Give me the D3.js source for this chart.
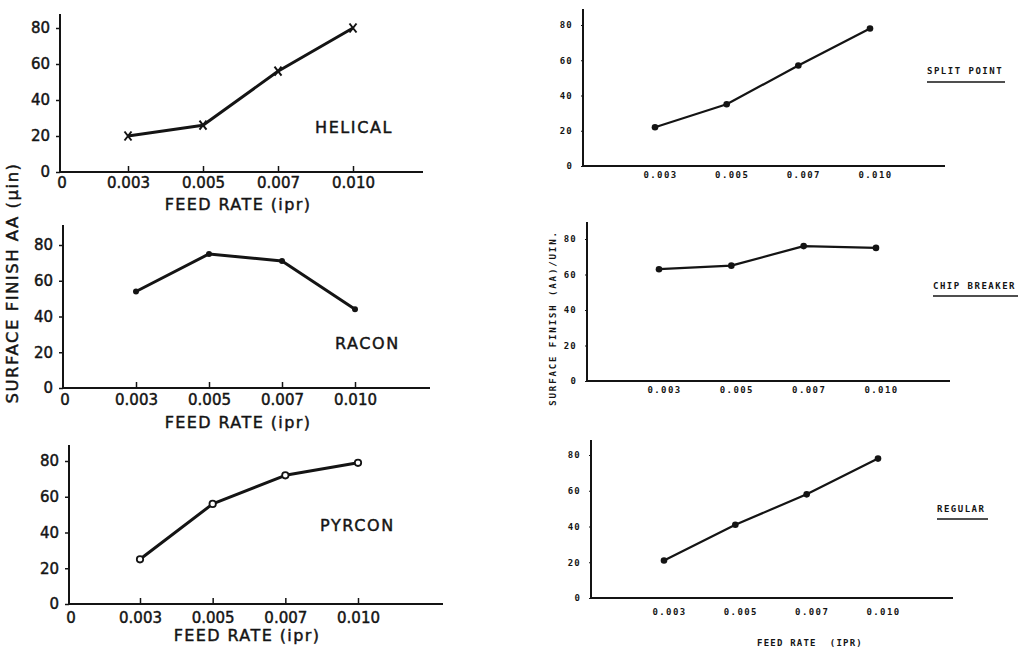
<!DOCTYPE html>
<html>
<head>
<meta charset="utf-8">
<script src="https://cdn.jsdelivr.net/npm/d3@7"></script>
<style>
  html, body { margin: 0; padding: 0; background: #fff; }
  svg { display: block; }
</style>
</head>
<body>
<svg id="chart" width="1018" height="650"></svg>
<script>
// ---------- DATA ----------
const categories = ["0.003", "0.005", "0.007", "0.010"];
const yTickValues = [0, 20, 40, 60, 80];
const helical = [20, 26, 56, 80];
const racon = [54, 75, 71, 44];
const pyrcon = [25, 56, 72, 79];
const splitPoint = [22, 35, 57, 78];
const chipBreaker = [63, 65, 76, 75];
const regular = [21, 41, 58, 78];
const leftNames = ["HELICAL", "RACON", "PYRCON"];
const rightNames = ["SPLIT POINT", "CHIP BREAKER", "REGULAR"];

// ---------- LAYOUT ----------
const svg = d3.select("#chart");
const ink = "#141414";

const leftPanels = [
  { values: helical, name: leftNames[0], marker: "x", ax: 60, zeroY: 172, y80: 28, topY: 14, x0: 128, x3: 353, xEnd: 423,
    nameX: 315, nameY: 127, tickLabY: 183, feedX: 238, feedY: 204 },
  { values: racon, name: leftNames[1], marker: "dot", ax: 63, zeroY: 388, y80: 245, topY: 225, x0: 136, x3: 355, xEnd: 430,
    nameX: 335, nameY: 343, tickLabY: 400, feedX: 238, feedY: 422 },
  { values: pyrcon, name: leftNames[2], marker: "ring", ax: 69, zeroY: 604, y80: 461, topY: 445, x0: 140, x3: 358, xEnd: 443,
    nameX: 320, nameY: 525, tickLabY: 618, feedX: 247, feedY: 635 }
];

const rightPanels = [
  { values: splitPoint, name: rightNames[0], ax: 583, zeroY: 166, y80: 25, topY: 9, x0: 655, x3: 870, xEnd: 945,
    nameX: 927, nameY: 71, lineY: 82, lineEnd: 1005, tickLabY: 175 },
  { values: chipBreaker, name: rightNames[1], ax: 587, zeroY: 381, y80: 239, topY: 222, x0: 659, x3: 876, xEnd: 950,
    nameX: 933, nameY: 286, lineY: 296, lineEnd: 1018, tickLabY: 390 },
  { values: regular, name: rightNames[2], ax: 591, zeroY: 598, y80: 455, topY: 440, x0: 664, x3: 878, xEnd: 953,
    nameX: 937, nameY: 509, lineY: 519, lineEnd: 988, tickLabY: 612 }
];

const leftFont = "'DejaVu Sans', sans-serif";
const monoFont = "'DejaVu Sans Mono', monospace";
const boldish = sel => sel.attr("stroke", ink).attr("stroke-width", 0.45);

// ---------- LEFT PANELS ----------
leftPanels.forEach(p => {
  const g = svg.append("g");
  const x = d3.scalePoint().domain(categories).range([p.x0, p.x3]);
  const y = d3.scaleLinear().domain([0, 80]).range([p.zeroY, p.y80]);

  g.append("line").attr("x1", p.ax).attr("x2", p.ax).attr("y1", p.topY).attr("y2", p.zeroY + 1)
    .attr("stroke", ink).attr("stroke-width", 2);
  g.append("line").attr("x1", p.ax).attr("x2", p.xEnd).attr("y1", p.zeroY).attr("y2", p.zeroY)
    .attr("stroke", ink).attr("stroke-width", 2);

  const yAxis = g.append("g").attr("transform", `translate(${p.ax},0)`)
    .call(d3.axisLeft(y).tickValues(yTickValues).tickSizeInner(4).tickSizeOuter(0).tickPadding(6));
  yAxis.select(".domain").remove();
  yAxis.selectAll("line").attr("stroke", ink).attr("stroke-width", 1.5);
  yAxis.selectAll("text").attr("font-family", leftFont).attr("font-size", 15).attr("fill", ink).call(boldish);

  const xAxis = g.append("g").attr("transform", `translate(0,${p.zeroY})`)
    .call(d3.axisBottom(x).tickSizeInner(-6).tickSizeOuter(0).tickPadding(0));
  xAxis.select(".domain").remove();
  xAxis.selectAll("line").attr("stroke", ink).attr("stroke-width", 1.5);
  xAxis.selectAll("text").attr("font-family", leftFont).attr("font-size", 15).attr("fill", ink)
    .attr("y", p.tickLabY - p.zeroY).attr("dy", "0.35em").call(boldish);
  g.append("text").attr("x", p.ax + 2).attr("y", p.tickLabY).attr("dy", "0.35em")
    .attr("text-anchor", "middle").attr("font-family", leftFont).attr("font-size", 15).attr("fill", ink)
    .call(boldish).text("0");

  const line = d3.line().x((d, i) => x(categories[i])).y(d => y(d));
  g.append("path").datum(p.values).attr("d", line).attr("fill", "none")
    .attr("stroke", ink).attr("stroke-width", 3).attr("stroke-linejoin", "round");

  const pts = g.selectAll(".pt").data(p.values).enter();
  if (p.marker === "x") {
    pts.append("path")
      .attr("transform", (d, i) => `translate(${x(categories[i])},${y(d)})`)
      .attr("d", "M-3.5,-4.5L3.5,4.5M3.5,-4.5L-3.5,4.5")
      .attr("stroke", ink).attr("stroke-width", 2).attr("fill", "none");
  } else if (p.marker === "dot") {
    pts.append("circle").attr("cx", (d, i) => x(categories[i])).attr("cy", d => y(d))
      .attr("r", 3).attr("fill", ink);
  } else {
    pts.append("circle").attr("cx", (d, i) => x(categories[i])).attr("cy", d => y(d))
      .attr("r", 3.2).attr("fill", "#fff").attr("stroke", ink).attr("stroke-width", 1.8);
  }

  g.append("text").attr("x", p.nameX).attr("y", p.nameY).attr("dy", "0.35em")
    .attr("font-family", leftFont).attr("font-size", 16).attr("letter-spacing", 1.6)
    .attr("fill", ink).call(boldish).text(p.name);

  g.append("text").attr("x", p.feedX).attr("y", p.feedY).attr("dy", "0.35em").attr("text-anchor", "middle")
    .attr("font-family", leftFont).attr("font-size", 16).attr("letter-spacing", 1.4)
    .attr("fill", ink).call(boldish).text("FEED RATE (ipr)");
});

svg.append("text").attr("transform", "translate(12,283) rotate(-90)").attr("dy", "0.35em")
  .attr("text-anchor", "middle").attr("font-family", leftFont).attr("font-size", 16.5).attr("letter-spacing", 1.5)
  .attr("fill", ink).call(boldish).text("SURFACE FINISH AA (\u03BCin)");

// ---------- RIGHT PANELS ----------
rightPanels.forEach(p => {
  const g = svg.append("g");
  const x = d3.scalePoint().domain(categories).range([p.x0, p.x3]);
  const y = d3.scaleLinear().domain([0, 80]).range([p.zeroY, p.y80]);

  g.append("line").attr("x1", p.ax).attr("x2", p.ax).attr("y1", p.topY).attr("y2", p.zeroY + 1)
    .attr("stroke", ink).attr("stroke-width", 2);
  g.append("line").attr("x1", p.ax).attr("x2", p.xEnd).attr("y1", p.zeroY).attr("y2", p.zeroY)
    .attr("stroke", ink).attr("stroke-width", 2);

  const yAxis = g.append("g").attr("transform", `translate(${p.ax},0)`)
    .call(d3.axisLeft(y).tickValues(yTickValues).tickSizeInner(2).tickSizeOuter(0).tickPadding(8));
  yAxis.select(".domain").remove();
  yAxis.selectAll("line").attr("stroke", ink).attr("stroke-width", 1.2);
  yAxis.selectAll("text").attr("font-family", monoFont).attr("font-weight", "bold").attr("font-size", 9)
    .attr("letter-spacing", 1.2).attr("fill", ink);

  const xAxis = g.append("g").attr("transform", `translate(0,${p.zeroY})`)
    .call(d3.axisBottom(x).tickSize(0).tickPadding(0));
  xAxis.select(".domain").remove();
  xAxis.selectAll("text").attr("font-family", monoFont).attr("font-weight", "bold").attr("font-size", 9)
    .attr("letter-spacing", 1.4).attr("fill", ink)
    .attr("x", 5).attr("y", p.tickLabY - p.zeroY).attr("dy", "0.35em");

  const line = d3.line().x((d, i) => x(categories[i])).y(d => y(d));
  g.append("path").datum(p.values).attr("d", line).attr("fill", "none")
    .attr("stroke", ink).attr("stroke-width", 2.2).attr("stroke-linejoin", "round");

  g.selectAll(".pt").data(p.values).enter().append("circle")
    .attr("cx", (d, i) => x(categories[i])).attr("cy", d => y(d)).attr("r", 3.3).attr("fill", ink);

  g.append("text").attr("x", p.nameX).attr("y", p.nameY).attr("dy", "0.35em")
    .attr("font-family", monoFont).attr("font-weight", "bold").attr("font-size", 9).attr("letter-spacing", 1.5)
    .attr("fill", ink).text(p.name);
  g.append("line").attr("x1", p.nameX).attr("x2", p.lineEnd).attr("y1", p.lineY).attr("y2", p.lineY)
    .attr("stroke", ink).attr("stroke-width", 1.3);
});

svg.append("text").attr("transform", "translate(553,318) rotate(-90)").attr("dy", "0.35em")
  .attr("text-anchor", "middle").attr("font-family", monoFont).attr("font-weight", "bold")
  .attr("font-size", 9).attr("letter-spacing", 1.9).attr("fill", ink).text("SURFACE FINISH (AA)/UIN.");
svg.append("text").attr("x", 810).attr("y", 643).attr("dy", "0.35em").attr("text-anchor", "middle")
  .attr("font-family", monoFont).attr("font-weight", "bold").attr("font-size", 9).attr("letter-spacing", 1.2)
  .attr("fill", ink).style("white-space", "pre").text("FEED RATE  (IPR)");
</script>
</body>
</html>
